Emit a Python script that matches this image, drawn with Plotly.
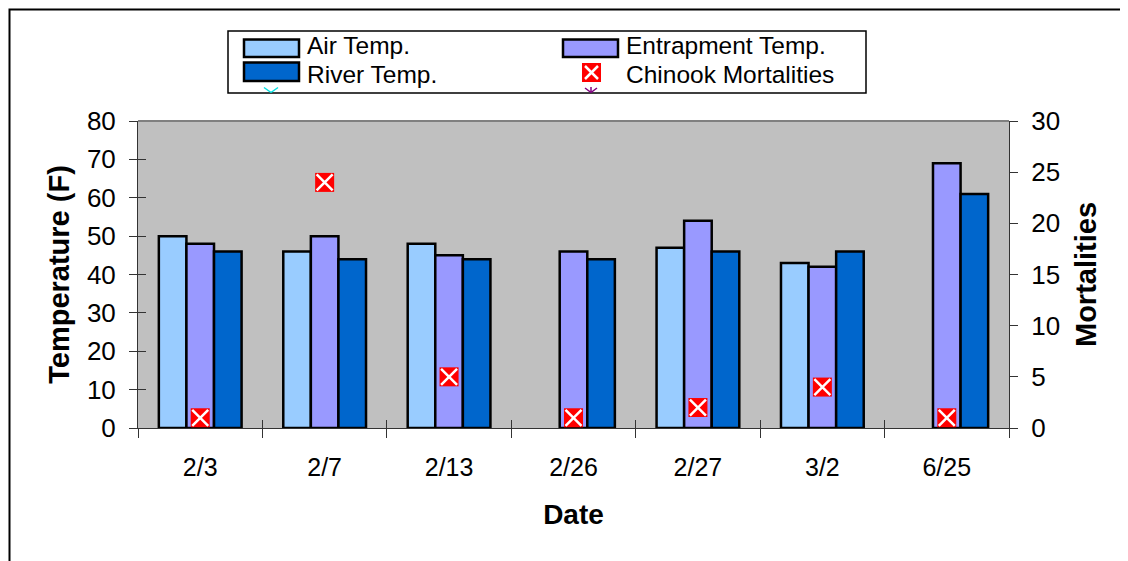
import plotly.graph_objects as go

# dates sampled
dates = ['2/3', '2/7', '2/13', '2/26', '2/27', '3/2', '6/25']

# temperatures (F), None where no reading
air_temp = [50, 46, 48, None, 47, 43, None]
entrapment_temp = [48, 50, 45, 46, 54, 42, 69]
river_temp = [46, 44, 44, 44, 46, 46, 61]

# chinook mortalities (right axis)
mortalities = [1, 24, 5, 1, 2, 4, 1]

series_names = ['Air Temp.', 'Entrapment Temp.', 'River Temp.', 'Chinook Mortalities']
bar_colors = ['#99CCFF', '#9999FF', '#0066CC']

FONT = 'Liberation Sans, Arial, sans-serif'

# plot area on screen: x 138..1009, y 121..428
def px(x):
    return (x - 138) / 871.0

def py(y):
    return 1 + (121 - y) / 307.0


fig = go.Figure()

for name, vals, col in zip(series_names[:3], [air_temp, entrapment_temp, river_temp], bar_colors):
    fig.add_trace(go.Bar(x=dates, y=vals, name=name,
                         marker=dict(color=col, line=dict(color='black', width=2.5))))

# red squares with a white cross
fig.add_trace(go.Scatter(x=dates, y=mortalities, yaxis='y2', mode='markers',
                         name=series_names[3], hoverinfo='x+y',
                         marker=dict(symbol='square', size=19, color='#FF0000',
                                     line=dict(width=0))))
fig.add_trace(go.Scatter(x=dates, y=mortalities, yaxis='y2', mode='markers',
                         hoverinfo='skip', showlegend=False,
                         marker=dict(symbol='x-thin', size=16,
                                     line=dict(color='white', width=2.5))))

# empty trace holding the overlay axes used for inward tick halves
fig.add_trace(go.Scatter(x=dates, y=[None] * len(dates), xaxis='x2', yaxis='y3',
                         showlegend=False, hoverinfo='skip'))

tick_col = '#333333'

fig.update_layout(
    width=1128, height=561,
    margin=dict(l=130, r=127, t=113, b=141),
    paper_bgcolor='white',
    plot_bgcolor='#C0C0C0',
    font=dict(family=FONT, size=26, color='black'),
    barmode='group',
    bargap=0.335,
    bargroupgap=0,
    showlegend=False,
    xaxis=dict(
        title=dict(text='<b>Date</b>', font=dict(size=28), standoff=24),
        type='category', range=[-0.5, 6.5],
        tickson='boundaries',
        ticks='outside', ticklen=9, tickcolor=tick_col, tickwidth=1,
        ticklabelstandoff=17,
        showline=True, linecolor=tick_col, linewidth=1,
        showgrid=False, tickfont=dict(size=25),
    ),
    xaxis2=dict(
        type='category', range=[-0.5, 6.5], overlaying='x', side='bottom',
        categoryarray=dates, categoryorder='array',
        tickson='boundaries', ticks='inside', ticklen=8, tickcolor=tick_col,
        showticklabels=False, showgrid=False, showline=False,
    ),
    yaxis=dict(
        title=dict(text='<b>Temperature (F)</b>', font=dict(size=29), standoff=8),
        range=[0, 80], dtick=10,
        ticks='outside', ticklen=8, tickcolor=tick_col,
        ticklabelstandoff=8,
        showline=True, linecolor=tick_col, linewidth=1,
        showgrid=False, zeroline=False, tickfont=dict(size=26),
    ),
    yaxis2=dict(
        title=dict(text='<b>Mortalities</b>', font=dict(size=29), standoff=16),
        range=[0, 30], dtick=5, overlaying='y', side='right',
        ticks='outside', ticklen=8, tickcolor=tick_col,
        ticklabelstandoff=8,
        showline=True, linecolor=tick_col, linewidth=1,
        showgrid=False, zeroline=False, tickfont=dict(size=26),
    ),
    yaxis3=dict(
        range=[0, 80], dtick=10, overlaying='y', side='left',
        ticks='inside', ticklen=8, tickcolor=tick_col,
        showticklabels=False, showgrid=False, zeroline=False, showline=False,
    ),
)

shapes = []
# top border of the plot area
shapes.append(dict(type='line', xref='paper', yref='paper', x0=0, x1=1, y0=1, y1=1,
                   line=dict(color='#808080', width=2)))
# outer chart frame
shapes.append(dict(type='rect', xref='paper', yref='paper',
                   x0=px(9.5), x1=px(1150), y0=py(580), y1=py(9.5),
                   line=dict(color='black', width=2), layer='below'))

# legend box
shapes.append(dict(type='rect', xref='paper', yref='paper',
                   x0=px(228), x1=px(866), y0=py(93), y1=py(31),
                   line=dict(color='black', width=1.5), fillcolor='white'))

# legend swatches for the bars
swatch_pos = [(244, 299, 39.5, 57), (563, 618, 39.5, 57), (244, 299, 62.5, 81)]
for (x0, x1, y0, y1), col in zip(swatch_pos, bar_colors):
    shapes.append(dict(type='rect', xref='paper', yref='paper',
                       x0=px(x0), x1=px(x1), y0=py(y1), y1=py(y0),
                       line=dict(color='black', width=2.5), fillcolor=col))

# legend marker for mortalities
shapes.append(dict(type='rect', xref='paper', yref='paper',
                   x0=px(582), x1=px(601), y0=py(82), y1=py(63),
                   line=dict(width=0), fillcolor='#FF0000'))
for (a, b, c, d) in [(585, 66, 598, 79), (585, 79, 598, 66)]:
    shapes.append(dict(type='line', xref='paper', yref='paper',
                       x0=px(a), y0=py(b), x1=px(c), y1=py(d),
                       line=dict(color='white', width=2.5)))

# stray markers peeking out at the bottom of the legend box
for (a, b, c, d) in [(264, 87.5, 271, 92.5), (278, 87.5, 271, 92.5)]:
    shapes.append(dict(type='line', xref='paper', yref='paper',
                       x0=px(a), y0=py(b), x1=px(c), y1=py(d),
                       line=dict(color='#00E0E0', width=1.5)))
for (a, b, c, d) in [(591, 87, 591, 92.5), (585, 88, 591, 92.5), (597, 88, 591, 92.5)]:
    shapes.append(dict(type='line', xref='paper', yref='paper',
                       x0=px(a), y0=py(b), x1=px(c), y1=py(d),
                       line=dict(color='#800080', width=1.5)))

fig.update_layout(shapes=shapes)

# legend labels
label_pos = [(306, 46), (625, 46), (306, 74.5), (625, 74.5)]
for name, (lx, ly) in zip(series_names, label_pos):
    fig.add_annotation(x=px(lx), y=py(ly), xref='paper', yref='paper',
                       text=name, showarrow=False,
                       xanchor='left', yanchor='middle', borderpad=0,
                       font=dict(family=FONT, size=24.5, color='black'))

fig.write_html('out.html')
